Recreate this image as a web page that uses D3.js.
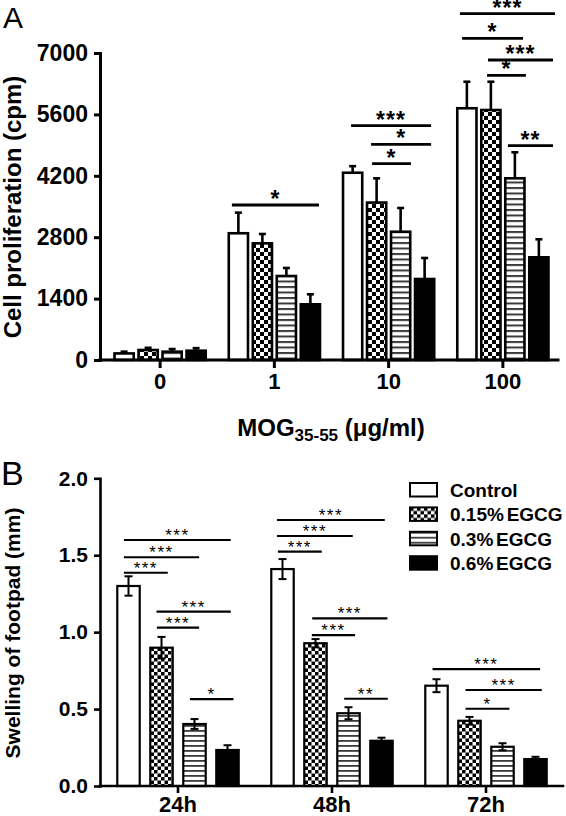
<!DOCTYPE html>
<html>
<head>
<meta charset="utf-8">
<script src="https://cdn.jsdelivr.net/npm/d3@7"></script>
<style>
  html, body { margin: 0; padding: 0; background: #fff; }
  svg { display: block; }
  text { font-family: "Liberation Sans", Arial, Helvetica, sans-serif; fill: #000; }
</style>
</head>
<body>
<svg id="chart" width="566" height="816"></svg>
<script>
// ---------------- DATA ----------------
const seriesNames = ["Control", "0.15% EGCG", "0.3% EGCG", "0.6% EGCG"];

// Panel A: cell proliferation (cpm) by MOG35-55 dose
const doseLabels = ["0", "1", "10", "100"];
const prolifControl = [150, 2890, 4270, 5740];
const prolifEgcg015 = [228, 2660, 3590, 5700];
const prolifEgcg03  = [190, 1915, 2925, 4143];
const prolifEgcg06  = [212, 1270, 1847, 2342];
const prolifSemControl = [40, 470, 150, 605];
const prolifSemEgcg015 = [50, 213, 552, 645];
const prolifSemEgcg03  = [60, 183, 541, 593];
const prolifSemEgcg06  = [58, 228, 479, 410];
const yTicksA = [0, 1400, 2800, 4200, 5600, 7000];
// significance: [group, fromBar, toBar, level (cpm), label]
const sigA = [
  ["1", -0.27, 3.36, 3534, "*"],
  ["10", -0.07, 3.27, 5342, "***"],
  ["10", 0.77, 3.27, 4918, "*"],
  ["10", 0.81, 2.43, 4476, "*"],
  ["100", -0.29, 3.67, 7896, "***"],
  ["100", -0.2, 2.34, 7335, "*"],
  ["100", 0.88, 3.59, 6840, "***"],
  ["100", 0.84, 2.46, 6491, "*"],
  ["100", 1.71, 3.59, 4886, "**"]
];

// Panel B: swelling of footpad (mm) by time
const timeLabels = ["24h", "48h", "72h"];
const swellControl = [1.30, 1.41, 0.652];
const swellEgcg015 = [0.899, 0.928, 0.424];
const swellEgcg03  = [0.403, 0.473, 0.255];
const swellEgcg06  = [0.234, 0.294, 0.175];
const swellSemControl = [0.063, 0.065, 0.042];
const swellSemEgcg015 = [0.07, 0.027, 0.025];
const swellSemEgcg03  = [0.032, 0.039, 0.023];
const swellSemEgcg06  = [0.031, 0.02, 0.015];
const yTicksB = [0, 0.5, 1.0, 1.5, 2.0];
const sigB = [
  ["24h", -0.14, 3.1, 1.599, "***"],
  ["24h", -0.14, 2.14, 1.487, "***"],
  ["24h", -0.14, 1.19, 1.386, "***"],
  ["24h", 0.85, 3.1, 1.133, "***"],
  ["24h", 0.86, 2.14, 1.029, "***"],
  ["24h", 1.86, 3.18, 0.565, "*"],
  ["48h", -0.17, 3.1, 1.729, "***"],
  ["48h", -0.17, 2.13, 1.625, "***"],
  ["48h", -0.14, 1.19, 1.523, "***"],
  ["48h", 0.9, 3.18, 1.09, "***"],
  ["48h", 0.89, 2.2, 0.981, "***"],
  ["48h", 1.87, 3.19, 0.567, "**"],
  ["72h", -0.12, 3.14, 0.76, "***"],
  ["72h", 0.88, 3.19, 0.624, "***"],
  ["72h", 0.88, 2.21, 0.502, "*"]
];

// ---------------- BUILD ----------------
const svg = d3.select("#chart");
const FONT = '"Liberation Sans", Arial, Helvetica, sans-serif';

const defs = svg.append("defs");
function checker(id, c) {
  const p = defs.append("pattern").attr("id", id).attr("patternUnits", "userSpaceOnUse")
    .attr("width", 2 * c).attr("height", 2 * c);
  p.append("rect").attr("width", 2 * c).attr("height", 2 * c).attr("fill", "#fff");
  p.append("rect").attr("x", 0).attr("y", 0).attr("width", c).attr("height", c).attr("fill", "#000");
  p.append("rect").attr("x", c).attr("y", c).attr("width", c).attr("height", c).attr("fill", "#000");
}
function hlines(id, period, th, col) {
  const p = defs.append("pattern").attr("id", id).attr("patternUnits", "userSpaceOnUse")
    .attr("width", 4).attr("height", period);
  p.append("rect").attr("width", 4).attr("height", period).attr("fill", "#fff");
  p.append("rect").attr("x", 0).attr("y", 0).attr("width", 4).attr("height", th).attr("fill", col);
}
checker("chkA", 4);
checker("chkB", 3.5);
hlines("hlA", 5.5, 2, "#3a3a3a");
hlines("hlB", 5, 1.8, "#3a3a3a");

const fillsA = ["#fff", "url(#chkA)", "url(#hlA)", "#000"];
const fillsB = ["#fff", "url(#chkB)", "url(#hlB)", "#000"];

function buildRows(cats, means, sems) {
  const rows = [];
  cats.forEach((c, gi) => {
    means.forEach((arr, si) => rows.push({ cat: c, s: si, v: arr[gi], e: sems[si][gi] }));
  });
  return rows;
}

function drawPanel(cfg) {
  const g = svg.append("g");
  const x = d3.scaleBand().domain(cfg.cats).range(cfg.xRange).padding(0);
  const xi = d3.scaleBand().domain(d3.range(4)).range([-cfg.half, cfg.half])
    .paddingInner(cfg.padIn).paddingOuter(cfg.padOut);
  const pitch = xi.step();
  const y = d3.scaleLinear().domain(cfg.yDomain).range(cfg.yRange);
  const cx = c => x(c) + x.bandwidth() / 2;

  const rows = buildRows(cfg.cats, cfg.means, cfg.sems);

  // bars
  g.selectAll("rect.bar").data(rows).join("rect")
    .attr("class", "bar")
    .attr("x", d => cx(d.cat) + xi(d.s))
    .attr("y", d => y(d.v))
    .attr("width", xi.bandwidth())
    .attr("height", d => y(0) - y(d.v))
    .attr("fill", d => cfg.fills[d.s])
    .attr("stroke", "#000").attr("stroke-width", cfg.barStroke);

  // error bars
  const eb = g.selectAll("g.eb").data(rows).join("g").attr("class", "eb")
    .attr("stroke", "#000").attr("stroke-width", cfg.errStroke);
  const ecx = d => cx(d.cat) + xi(d.s) + xi.bandwidth() / 2;
  eb.append("line")
    .attr("x1", ecx).attr("x2", ecx)
    .attr("y1", d => cfg.twoSided ? y(d.v - d.e) : y(d.v))
    .attr("y2", d => y(d.v + d.e));
  eb.append("line")
    .attr("x1", d => ecx(d) - cfg.cap).attr("x2", d => ecx(d) + cfg.cap)
    .attr("y1", d => y(d.v + d.e)).attr("y2", d => y(d.v + d.e));
  if (cfg.twoSided) {
    eb.append("line")
      .attr("x1", d => ecx(d) - cfg.cap).attr("x2", d => ecx(d) + cfg.cap)
      .attr("y1", d => y(d.v - d.e)).attr("y2", d => y(d.v - d.e));
  }

  // significance
  const sx = (c, idx) => cx(c) + (idx - 1.5) * pitch;
  const sg = g.selectAll("g.sig").data(cfg.sig).join("g").attr("class", "sig");
  sg.append("line")
    .attr("x1", d => sx(d[0], d[1])).attr("x2", d => sx(d[0], d[2]))
    .attr("y1", d => y(d[3])).attr("y2", d => y(d[3]))
    .attr("stroke", "#000").attr("stroke-width", cfg.sigStroke);
  sg.append("text")
    .attr("x", d => (sx(d[0], d[1]) + sx(d[0], d[2])) / 2)
    .attr("y", d => y(d[3]) + cfg.starDy)
    .attr("text-anchor", "middle")
    .style("font-size", cfg.starSize + "px")
    .style("font-weight", cfg.starWeight)
    .style("letter-spacing", cfg.starSpacing + "px")
    .text(d => d[4]);

  // y axis
  const ya = g.append("g").attr("transform", `translate(${cfg.axisX},0)`)
    .call(d3.axisLeft(y).tickValues(cfg.yTicks).tickSize(cfg.tickLen).tickSizeOuter(0)
      .tickPadding(cfg.tickPad).tickFormat(cfg.yFormat));
  ya.select(".domain").attr("stroke-width", cfg.axisStroke).attr("stroke-linecap", "square");
  ya.selectAll(".tick line").attr("stroke-width", cfg.axisStroke);
  ya.selectAll(".tick text").style("font-size", cfg.yTickSize + "px").style("font-weight", "bold")
    .style("font-family", FONT).attr("fill", "#000");

  // x axis
  const xa = g.append("g").attr("transform", `translate(0,${y(0)})`)
    .call(d3.axisBottom(x).tickSize(cfg.xTickLen).tickSizeOuter(0).tickPadding(cfg.xTickPad));
  xa.select(".domain").remove();
  xa.append("line").attr("x1", cfg.axisX).attr("x2", cfg.xAxisEnd).attr("y1", 0).attr("y2", 0)
    .attr("stroke", "#000").attr("stroke-width", cfg.axisStroke).attr("stroke-linecap", "square");
  xa.selectAll(".tick line").attr("stroke-width", cfg.axisStroke);
  xa.selectAll(".tick text").style("font-size", cfg.xTickSize + "px").style("font-weight", "bold")
    .style("font-family", FONT).attr("fill", "#000");

  return { x, y };
}

// Panel A
drawPanel({
  cats: doseLabels,
  means: [prolifControl, prolifEgcg015, prolifEgcg03, prolifEgcg06],
  sems: [prolifSemControl, prolifSemEgcg015, prolifSemEgcg03, prolifSemEgcg06],
  sig: sigA,
  fills: fillsA,
  xRange: [103, 560], half: 48, padIn: 0.2, padOut: 0.1,
  yDomain: [0, 7000], yRange: [360, 53], yTicks: yTicksA, yFormat: d3.format("d"),
  axisX: 100, xAxisEnd: 558,
  barStroke: 2.6, errStroke: 2.6, cap: 3.5, twoSided: false,
  sigStroke: 2.8, starDy: 2, starSize: 23, starWeight: "bold", starSpacing: 1,
  axisStroke: 3, tickLen: 6, tickPad: 6, yTickSize: 23, xTickLen: 8, xTickPad: 5, xTickSize: 22
});

// Panel B
drawPanel({
  cats: timeLabels,
  means: [swellControl, swellEgcg015, swellEgcg03, swellEgcg06],
  sems: [swellSemControl, swellSemEgcg015, swellSemEgcg03, swellSemEgcg06],
  sig: sigB,
  fills: fillsB,
  xRange: [101, 563], half: 66, padIn: 0.32, padOut: 0.16,
  yDomain: [0, 2], yRange: [786, 478.3], yTicks: yTicksB, yFormat: d3.format(".1f"),
  axisX: 100, xAxisEnd: 563,
  barStroke: 2.2, errStroke: 2, cap: 4, twoSided: true,
  sigStroke: 2.2, starDy: 1, starSize: 17, starWeight: "normal", starSpacing: 1.5,
  axisStroke: 2.6, tickLen: 6, tickPad: 6, yTickSize: 21, xTickLen: 7, xTickPad: 3, xTickSize: 22
});

// Panel letters
svg.append("text").attr("x", 3).attr("y", 28).style("font-size", "30px").text("A");
svg.append("text").attr("x", 1).attr("y", 485).style("font-size", "34px").text("B");

// Y titles
svg.append("text").attr("transform", "translate(21,207) rotate(-90)")
  .attr("text-anchor", "middle").style("font-size", "24px").style("font-weight", "bold")
  .text("Cell proliferation (cpm)");
svg.append("text").attr("transform", "translate(20,633) rotate(-90)")
  .attr("text-anchor", "middle").style("font-size", "21px").style("font-weight", "bold")
  .text("Swelling of footpad (mm)");

// X title A
const xt = svg.append("text").attr("x", 331).attr("y", 436).attr("text-anchor", "middle")
  .style("font-size", "24px").style("font-weight", "bold");
xt.append("tspan").text("MOG");
xt.append("tspan").attr("dy", 5).style("font-size", "17px").text("35-55");
xt.append("tspan").attr("dy", -5).text(" (\u03BCg/ml)");

// Legend
const leg = svg.append("g");
const legRows = leg.selectAll("g").data(seriesNames).join("g")
  .attr("transform", (d, i) => `translate(410,${483 + i * 24.4})`);
legRows.append("rect").attr("width", 27).attr("height", 13.5)
  .attr("fill", (d, i) => fillsB[i]).attr("stroke", "#000").attr("stroke-width", 2);
legRows.append("text").attr("x", 40).attr("y", 14).style("font-size", "19px").style("font-weight", "bold")
  .style("word-spacing", "-2.5px").text(d => d);
</script>
</body>
</html>
